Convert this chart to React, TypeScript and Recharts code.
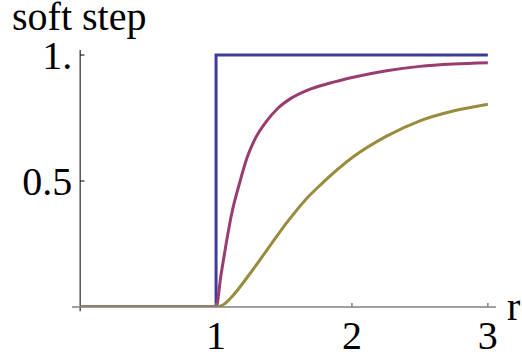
import { LineChart, Line, XAxis, YAxis, ReferenceLine, ReferenceDot } from "recharts"

// hard step
const stepR = [0, 1, 1, 3]
const stepV = [0, 0, 1, 1]

// fast soft step (purple)
const fastR = [0, 1, 1.037, 1.074, 1.115, 1.172, 1.233, 1.289, 1.368, 1.453, 1.551, 1.674, 1.833, 2.01, 2.255, 2.5, 2.745, 3]
const fastV = [0, 0, 0.13, 0.25, 0.37, 0.49, 0.6, 0.669, 0.735, 0.788, 0.828, 0.861, 0.888, 0.912, 0.938, 0.955, 0.964, 0.969]

// slow soft step (olive)
const slowR = [0, 1, 1.05, 1.115, 1.25, 1.373, 1.515, 1.667, 1.765, 2.01, 2.255, 2.5, 2.745, 3]
const slowV = [0, 0, 0.008, 0.04, 0.133, 0.225, 0.331, 0.431, 0.483, 0.596, 0.678, 0.739, 0.778, 0.805]

const xTicks = [1, 2, 3]
const yTicks = [0.5, 1]
const yTickLabels = ["0.5", "1."]

const toPoints = (rs: number[], vs: number[]) => rs.map((r, i) => ({ r, v: vs[i] }))

const FONT = "'Liberation Serif', 'Times New Roman', serif"

export default function App() {
  const stepData = toPoints(stepR, stepV)
  const fastData = toPoints(fastR, fastV)
  const slowData = toPoints(slowR, slowV)

  return (
    <div style={{ position: "absolute", left: 0, top: 0, width: 522, height: 356, background: "#fff" }}>
      <LineChart width={522} height={356} margin={{ top: 50, right: 26, left: 72, bottom: 9 }}>
        <XAxis
          type="number"
          dataKey="r"
          domain={[-0.06, 3.06]}
          ticks={xTicks}
          allowDataOverflow
          height={40}
          stroke="#808080"
          axisLine={{ stroke: "#808080", strokeWidth: 1.5 }}
          tickLine={{ stroke: "#808080", strokeWidth: 1.5 }}
          tickSize={-4}
          tickMargin={18}
          tick={{ fill: "#000", fontSize: 40, fontFamily: FONT }}
        />
        <YAxis type="number" domain={[0, 1.02]} hide allowDataOverflow />

        {/* y axis drawn at r = 0 */}
        <ReferenceLine
          segment={[{ x: 0, y: -0.017 }, { x: 0, y: 1.02 }]}
          stroke="#000"
          strokeWidth={1}
          ifOverflow="visible"
        />
        {yTicks.map((t) => (
          <ReferenceLine
            key={"tl" + t}
            segment={[{ x: 0, y: t }, { x: 0.032, y: t }]}
            stroke="#000"
            strokeWidth={1}
            ifOverflow="visible"
          />
        ))}
        {yTicks.map((t, i) => (
          <ReferenceDot
            key={"lb" + t}
            x={0}
            y={t}
            r={0}
            fill="none"
            stroke="none"
            ifOverflow="visible"
            label={{ value: yTickLabels[i], position: "left", offset: 8, fill: "#000", fontSize: 40, fontFamily: FONT }}
          />
        ))}

        <Line data={stepData} dataKey="v" type="linear" stroke="#3d3d99" strokeWidth={3} dot={false} activeDot={false} isAnimationActive={false} />
        <Line data={fastData} dataKey="v" type="monotone" stroke="#993d70" strokeWidth={3} dot={false} activeDot={false} isAnimationActive={false} />
        <Line data={slowData} dataKey="v" type="monotone" stroke="#998c3d" strokeWidth={3} dot={false} activeDot={false} isAnimationActive={false} />

        <text x={12} y={29.5} fontSize={40} fontFamily={FONT} fill="#000">soft step</text>
        <text x={507} y={319.5} fontSize={40} fontFamily={FONT} fill="#000">r</text>
      </LineChart>
    </div>
  )
}
